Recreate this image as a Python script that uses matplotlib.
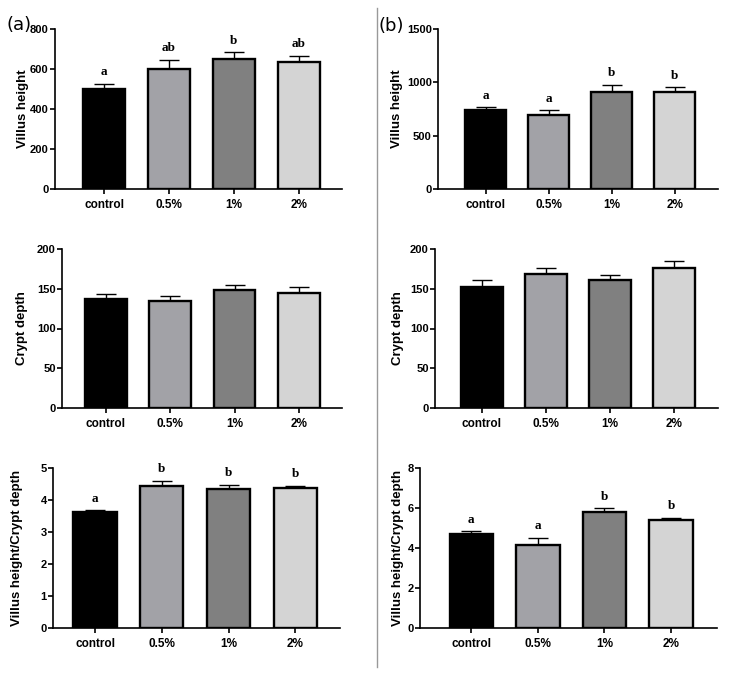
import matplotlib
matplotlib.use("Agg")
import matplotlib.pyplot as plt
from matplotlib.lines import Line2D

groups = ["control", "0.5%", "1%", "2%"]
bar_colors = ["#000000", "#a2a2a7", "#808080", "#d4d4d4"]

villus_a = [499, 601, 651, 635]
villus_a_err = [27, 45, 32, 30]
villus_a_sig = ["a", "ab", "b", "ab"]

villus_b = [745, 698, 914, 914]
villus_b_err = [22, 38, 63, 38]
villus_b_sig = ["a", "a", "b", "b"]

crypt_a = [137.5, 135, 149, 145]
crypt_a_err = [6.3, 5.5, 5.5, 7.6]

crypt_b = [152, 168.6, 160.6, 175.7]
crypt_b_err = [8.4, 7.1, 6.3, 8.8]

ratio_a = [3.62, 4.43, 4.34, 4.36]
ratio_a_err = [0.06, 0.17, 0.14, 0.09]
ratio_a_sig = ["a", "b", "b", "b"]

ratio_b = [4.70, 4.15, 5.79, 5.41]
ratio_b_err = [0.14, 0.37, 0.20, 0.11]
ratio_b_sig = ["a", "a", "b", "b"]

W, H = 733, 677
fig = plt.figure(figsize=(W / 100, H / 100), dpi=100)

sans = "Liberation Sans"
serif = "Liberation Serif"


def make_ax(l, r, t, b):
    return fig.add_axes([l / W, (H - b) / H, (r - l) / W, (b - t) / H])


panels = [
    # (pixel box, ylabel x centre px, values, errors, sig, ylabel, yticks, xlim)
    ((55, 342, 29, 189), 23, villus_a, villus_a_err, villus_a_sig, "Villus height", [0, 200, 400, 600, 800], (-0.76, 3.67)),
    ((438, 718, 29, 189), 397, villus_b, villus_b_err, villus_b_sig, "Villus height", [0, 500, 1000, 1500], (-0.76, 3.69)),
    ((62, 342, 249, 408), 22, crypt_a, crypt_a_err, None, "Crypt depth", [0, 50, 100, 150, 200], (-0.68, 3.67)),
    ((435, 718, 249, 408), 398, crypt_b, crypt_b_err, None, "Crypt depth", [0, 50, 100, 150, 200], (-0.73, 3.69)),
    ((53, 340, 468, 628), 17, ratio_a, ratio_a_err, ratio_a_sig, "Villus height/Crypt depth", [0, 1, 2, 3, 4, 5], (-0.63, 3.67)),
    ((420, 717, 468, 628), 398, ratio_b, ratio_b_err, ratio_b_sig, "Villus height/Crypt depth", [0, 2, 4, 6, 8], (-0.77, 3.69)),
]

for box, lab_x, vals, errs, sig, ylabel, yticks, xlim in panels:
    ax = make_ax(*box)
    x = list(range(len(groups)))
    ax.bar(x, vals, width=0.65, color=bar_colors, edgecolor="black",
           linewidth=1.7, zorder=3)
    ax.errorbar(x, vals, yerr=[[0] * len(vals), errs], fmt="none",
                ecolor="black", elinewidth=1.0, capsize=7.5, capthick=1.0,
                zorder=2)
    if sig is not None:
        for xi, v, e, s in zip(x, vals, errs, sig):
            ax.annotate(s, (xi, v + e), xytext=(0, 4), textcoords="offset points",
                        ha="center", va="bottom", fontsize=9.5,
                        fontfamily=serif, fontweight="bold")
    ax.set_xlim(*xlim)
    ax.set_ylim(yticks[0], yticks[-1])
    ax.set_yticks(yticks)
    ax.set_xticks(x)
    ax.set_xticklabels(groups)
    for sp in ["top", "right"]:
        ax.spines[sp].set_visible(False)
    for sp in ["left", "bottom"]:
        ax.spines[sp].set_linewidth(1.2)
    ax.tick_params(axis="both", direction="out", length=3.5, width=1.2)
    ax.tick_params(axis="y", labelsize=8, pad=1)
    ax.tick_params(axis="x", labelsize=8.5, pad=4)
    for lab in ax.get_xticklabels() + ax.get_yticklabels():
        lab.set_fontfamily(sans)
        lab.set_fontweight("bold")
    t, b = box[2], box[3]
    fig.text(lab_x / W, 1 - ((t + b) / 2) / H, ylabel, rotation=90,
             ha="center", va="center", fontsize=9.5, fontfamily=sans,
             fontweight="bold")

fig.text(6 / W, 1 - 25 / H, "(a)", fontsize=13, fontfamily="DejaVu Sans",
         ha="left", va="center")
fig.text(379 / W, 1 - 26 / H, "(b)", fontsize=13, fontfamily="DejaVu Sans",
         ha="left", va="center")

fig.add_artist(Line2D([376.7 / W, 376.7 / W], [1 - 8 / H, 1 - 667 / H],
                      transform=fig.transFigure, color="#999999", linewidth=1.0))

fig.savefig("out.png", dpi=100, facecolor="white")
